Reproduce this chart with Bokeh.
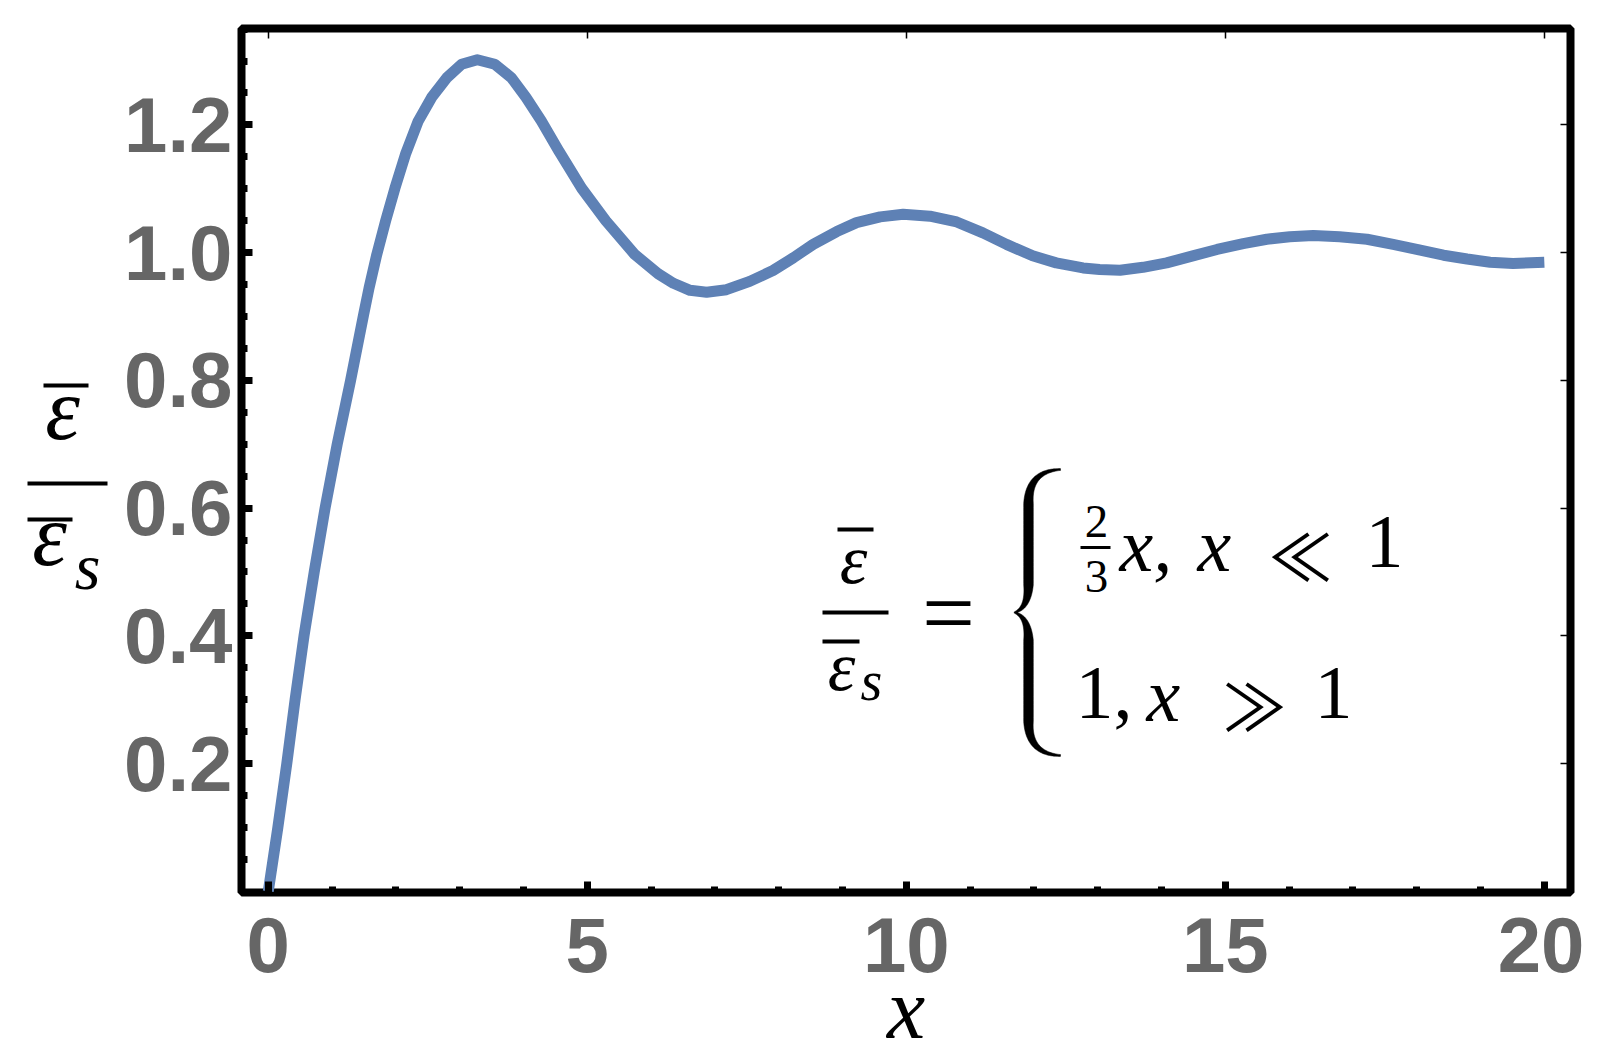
import numpy as np
from bokeh.plotting import figure
from bokeh.layouts import row
from bokeh.models import (FixedTicker, LinearAxis, Range1d, Label, BoxAnnotation,
                          PrintfTickFormatter)
from bokeh.embed import file_html
from bokeh.resources import INLINE

# ---------------- data ----------------
x_values = [0.0, 0.15, 0.29, 0.42, 0.56, 0.72, 0.89, 1.08, 1.29, 1.49, 1.58, 1.70,
            1.84, 1.985, 2.15, 2.35, 2.56, 2.80, 3.03, 3.276, 3.55, 3.81, 4.04, 4.28,
            4.56, 4.91, 5.29, 5.745, 6.11, 6.35, 6.61, 6.87, 7.18, 7.545, 7.91, 8.23,
            8.54, 8.91, 9.22, 9.59, 9.95, 10.37, 10.79, 11.20, 11.57, 11.98, 12.35,
            12.77, 13.03, 13.35, 13.71, 14.08, 14.49, 14.87, 15.28, 15.65, 16.01,
            16.38, 16.79, 17.22, 17.63, 18.00, 18.42, 18.79, 19.15, 19.51, 20.0]
y_values = [0.0, 0.10, 0.20, 0.30, 0.40, 0.50, 0.60, 0.70, 0.80, 0.901, 0.945, 0.997,
            1.050, 1.101, 1.154, 1.206, 1.243, 1.274, 1.295, 1.302, 1.295, 1.274, 1.243,
            1.206, 1.158, 1.101, 1.050, 0.997, 0.967, 0.952, 0.941, 0.938, 0.942, 0.955,
            0.972, 0.992, 1.013, 1.033, 1.047, 1.056, 1.060, 1.057, 1.048, 1.031, 1.013,
            0.995, 0.984, 0.976, 0.9735, 0.9725, 0.977, 0.984, 0.995, 1.005, 1.014,
            1.021, 1.025, 1.027, 1.025, 1.021, 1.013, 1.005, 0.996, 0.990, 0.985,
            0.983, 0.985]

x_major_ticks = [0, 5, 10, 15, 20]
x_tick_labels = ["0", "5", "10", "15", "20"]
x_minor_ticks = [1, 2, 3, 4, 6, 7, 8, 9, 11, 12, 13, 14, 16, 17, 18, 19]
y_major_ticks = [0.2, 0.4, 0.6, 0.8, 1.0, 1.2]
y_tick_labels = ["0.2", "0.4", "0.6", "0.8", "1.0", "1.2"]
y_minor_ticks = [0.05, 0.1, 0.15, 0.25, 0.3, 0.35, 0.45, 0.5, 0.55, 0.65, 0.7, 0.75,
                 0.85, 0.9, 0.95, 1.05, 1.1, 1.15, 1.25, 1.3, 1.35]

# ---------------- layout (page pixels) ----------------
LW = 118                              # width of the strip holding the y label
FL, FT, FW, FH = 241, 28, 1329, 864   # frame position on the page
BOTTOM = 230                          # space under the frame (both strips equal height)
TOTAL_H = FT + FH + BOTTOM
XR = (-0.42, 20.41)
YR = (-0.002, 1.351)


def dx(px):
    return XR[0] + (px - FL) / FW * (XR[1] - XR[0])


def dy(py):
    return YR[1] - (py - FT) / FH * (YR[1] - YR[0])


p = figure(frame_width=FW, frame_height=FH,
           min_border_left=FL - LW, min_border_top=FT,
           min_border_right=14, min_border_bottom=BOTTOM,
           x_range=Range1d(*XR), y_range=Range1d(*YR),
           output_backend="svg", toolbar_location=None)
p.background_fill_color = "white"
p.border_fill_color = "white"
p.grid.visible = False
p.outline_line_color = "black"
p.outline_line_width = 8
p.align = "start"

TICK_FONT = "Liberation Sans"
SERIF = "Liberation Serif"
for ax, ticks, minors, labels, fmt in (
        (p.xaxis[0], x_major_ticks, x_minor_ticks, x_tick_labels, "%d"),
        (p.yaxis[0], y_major_ticks, y_minor_ticks, y_tick_labels, "%.1f")):
    ax.ticker = FixedTicker(ticks=ticks, minor_ticks=minors)
    ax.formatter = PrintfTickFormatter(format=fmt)
    ax.major_label_overrides = {t: l for t, l in zip(ticks, labels)}
    ax.axis_line_color = None
    ax.major_tick_in = 11
    ax.major_tick_out = 0
    ax.minor_tick_in = 6
    ax.minor_tick_out = 0
    ax.major_tick_line_width = 7
    ax.minor_tick_line_width = 7
    ax.major_tick_line_color = "black"
    ax.minor_tick_line_color = "black"
    ax.major_label_text_font = TICK_FONT
    ax.major_label_text_font_style = "bold"
    ax.major_label_text_font_size = "78px"
    ax.major_label_text_color = "#666666"
p.xaxis[0].major_label_standoff = 25
p.yaxis[0].major_label_standoff = 9

xa = p.xaxis[0]
xa.axis_label = "x"
xa.axis_label_text_font = SERIF
xa.axis_label_text_font_style = "italic"
xa.axis_label_text_font_size = "86px"
xa.axis_label_text_color = "black"
xa.axis_label_standoff = -14

for side, ticks, minors in (("above", x_major_ticks, x_minor_ticks),
                            ("right", y_major_ticks, y_minor_ticks)):
    ax = LinearAxis(ticker=FixedTicker(ticks=ticks, minor_ticks=minors),
                    major_label_text_font_size="0px", major_label_text_color=None,
                    major_label_standoff=0,
                    axis_line_color=None, major_tick_in=10, major_tick_out=0,
                    minor_tick_in=3, minor_tick_out=0,
                    major_tick_line_width=1.5, minor_tick_line_width=1.5)
    p.add_layout(ax, side)

# ---------------- curve ----------------
p.line(x_values, y_values, line_width=11, line_color="#5E81B5", line_join="round")

# ---------------- y label strip (upright fraction) ----------------
lab = figure(frame_width=LW, frame_height=TOTAL_H,
             min_border_left=0, min_border_right=0, min_border_top=0, min_border_bottom=0,
             x_range=Range1d(0, LW), y_range=Range1d(TOTAL_H, 0),
             x_axis_type=None, y_axis_type=None,
             output_backend="svg", toolbar_location=None)
lab.outline_line_color = None
lab.background_fill_color = "white"
lab.border_fill_color = "white"
lab.align = "start"


def label_on(fig, x, y, text, size, align="center", font=SERIF, style="normal"):
    fig.add_layout(Label(x=x, y=y, text=text, text_font=font,
                         text_font_style=style, text_font_size=f"{size}px",
                         text_align=align, text_baseline="middle", text_color="black"))


def box_on(fig, x0, x1, y0, y1):
    fig.add_layout(BoxAnnotation(left=x0, right=x1, top=y0, bottom=y1,
                                 fill_color="black", fill_alpha=1.0, line_color=None))


# strip uses page pixels directly as its coordinates
label_on(lab, 62, 381, "ε", 88, style="italic")
box_on(lab, 43, 88, 355, 359)
box_on(lab, 27, 107, 453, 457)
box_on(lab, 27, 72, 489, 493)
label_on(lab, 49, 507, "ε", 88, style="italic")
label_on(lab, 87, 538, "s", 66, style="italic")

# ---------------- formula inside the frame ----------------


def add_text(px, py, text, size, align="center", font=SERIF, style="normal"):
    label_on(p, dx(px), dy(py), text, size, align=align, font=font, style=style)


def add_bar(x0, x1, yc, th):
    box_on(p, dx(x0), dx(x1), dy(yc - th / 2), dy(yc + th / 2))


add_text(853, 559, "ε", 70, style="italic")
add_bar(837, 873, 529, 4)
add_bar(822, 888, 612, 4)
add_bar(822, 859, 641, 4)
add_text(841, 666, "ε", 70, style="italic")
add_text(871, 680, "s", 56, style="italic")
add_text(948, 611, "=", 94)


def bez(p0, p1, p2, p3, n=40):
    t = np.linspace(0, 1, n)[:, None]
    p0, p1, p2, p3 = map(np.asarray, (p0, p1, p2, p3))
    return ((1 - t) ** 3) * p0 + 3 * ((1 - t) ** 2) * t * p1 + 3 * (1 - t) * t ** 2 * p2 + t ** 3 * p3


# curly brace drawn as a filled shape (page px -> data)
cy = 612
A = bez((1060, 469), (1038, 470), (1028, 482), (1028, 503))
B = np.column_stack([np.full(20, 1028.0), np.linspace(503, 583, 20)])
C = bez((1028, 583), (1028, 600), (1023, 609), (1014, cy))
upper = np.vstack([A, B[1:], C[1:]])
wA = np.linspace(0.9, 4.8, len(A))
wB = np.full(len(B) - 1, 4.8)
wC = np.linspace(4.8, 0.7, len(C) - 1)
w_up = np.concatenate([wA, wB, wC])
lower = upper[::-1].copy()
lower[:, 1] = 2 * cy - lower[:, 1]
center = np.vstack([upper, lower[1:]])
widths = np.concatenate([w_up, w_up[::-1][1:]])
d = np.gradient(center, axis=0)
nrm = np.column_stack([-d[:, 1], d[:, 0]])
nrm /= np.linalg.norm(nrm, axis=1)[:, None]
side1 = center + nrm * widths[:, None]
side2 = center - nrm * widths[:, None]
poly = np.vstack([side1, side2[::-1]])
p.patch([dx(v) for v in poly[:, 0]], [dy(v) for v in poly[:, 1]],
        fill_color="black", line_color="black", line_width=0.5)

MATH_SYM = "Noto Sans CJK JP"
add_text(1096, 521, "2", 47)
add_bar(1080, 1110, 547, 3)
add_text(1096, 576, "3", 47)
add_text(1119, 544, "x,", 76, align="left", style="italic")
add_text(1197, 544, "x", 76, align="left", style="italic")
add_text(1300, 552, "≪", 64, font=MATH_SYM)
add_text(1384, 541, "1", 76)

add_text(1075, 692, "1,", 76, align="left")
add_text(1146, 694, "x", 76, align="left", style="italic")
add_text(1254, 702, "≫", 64, font=MATH_SYM)
add_text(1333, 692, "1", 76)

layout = row(lab, p)
open("out.html", "w").write(file_html(layout, INLINE))
